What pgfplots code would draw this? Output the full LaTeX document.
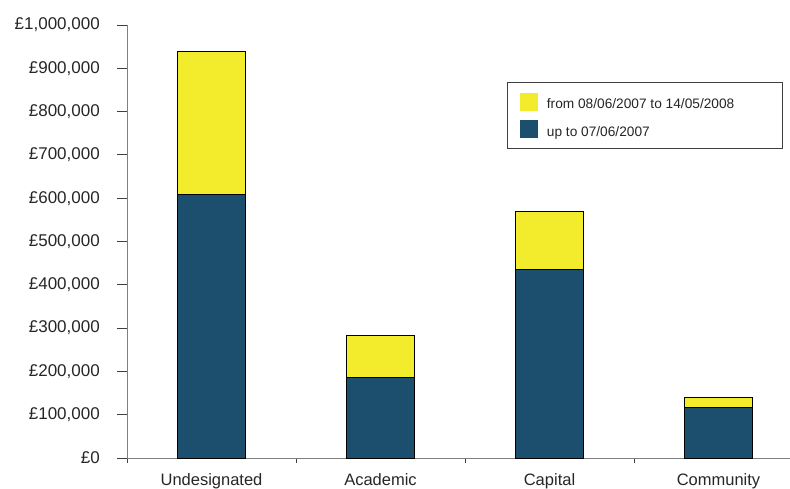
\documentclass[border=0pt]{standalone}
\usepackage{fontspec}
\setmainfont{Liberation Sans}
\usepackage{pgfplots}
\pgfplotsset{compat=1.18}
\definecolor{barblue}{RGB}{28,78,110}
\definecolor{baryellow}{RGB}{243,236,45}
\definecolor{axisgray}{RGB}{128,128,128}
\begin{document}
\begin{tikzpicture}
\path[use as bounding box] (0,0) rectangle (790pt,488pt);
\begin{axis}[
    at={(127pt,30pt)}, anchor=south west,
    scale only axis, width=663pt, height=433pt,
    ybar stacked, bar width=0.404,
    xmin=-0.5, xmax=3.423,
    ymin=0, ymax=1000000,
    axis x line=bottom, axis y line=left,
    axis line style={-, axisgray, line width=1pt},
    scaled y ticks=false,
    ytick={0,100000,200000,300000,400000,500000,600000,700000,800000,900000,1000000},
    yticklabels={{£0},{£100,000},{£200,000},{£300,000},{£400,000},{£500,000},{£600,000},{£700,000},{£800,000},{£900,000},{£1,000,000}},
    yticklabel style={anchor=east, inner sep=0pt, xshift=-22pt, font=\fontsize{17}{19}\selectfont, text=black!85},
    xtick={-0.5,0.5,1.5,2.5},
    xticklabels={},
    extra x ticks={0,1,2,3},
    extra x tick labels={Undesignated,Academic,Capital,Community},
    extra x tick style={major tick length=0pt,
        xticklabel style={anchor=north, inner sep=0pt, yshift=-15pt, font=\fontsize{16.5}{18}\selectfont, text=black!85}},
    tick align=outside,
    major tick length=5pt,
    ytick style={/pgfplots/major tick length=10pt},
    tick style={black!75, line width=0.8pt},
    legend style={at={(0.989,0.868)}, anchor=north east,
        draw=black!75, line width=0.8pt,
        font=\fontsize{13.7}{15}\selectfont, text=black!85,
        nodes={inner sep=0pt}, row sep=10pt,
        inner xsep=13pt, inner ysep=10pt},
    legend cell align=left,
    reverse legend,
    /tikz/every odd column/.append style={column sep=9pt},
]
\addplot[fill=barblue, draw=black, line width=0.8pt,
    legend image code/.code={\fill[barblue] (0pt,-5.5pt) rectangle (17pt,11.5pt);}]
    coordinates {(0,609000) (1,185000) (2,436000) (3,117000)};
\addlegendentry{up to 07/06/2007}
\addplot[fill=baryellow, draw=black, line width=0.8pt,
    legend image code/.code={\fill[baryellow] (0pt,-5.5pt) rectangle (17pt,11.5pt);}]
    coordinates {(0,329000) (1,99000) (2,134000) (3,23000)};
\addlegendentry{from 08/06/2007 to 14/05/2008\hspace*{35pt}}
\end{axis}
\end{tikzpicture}
\end{document}
